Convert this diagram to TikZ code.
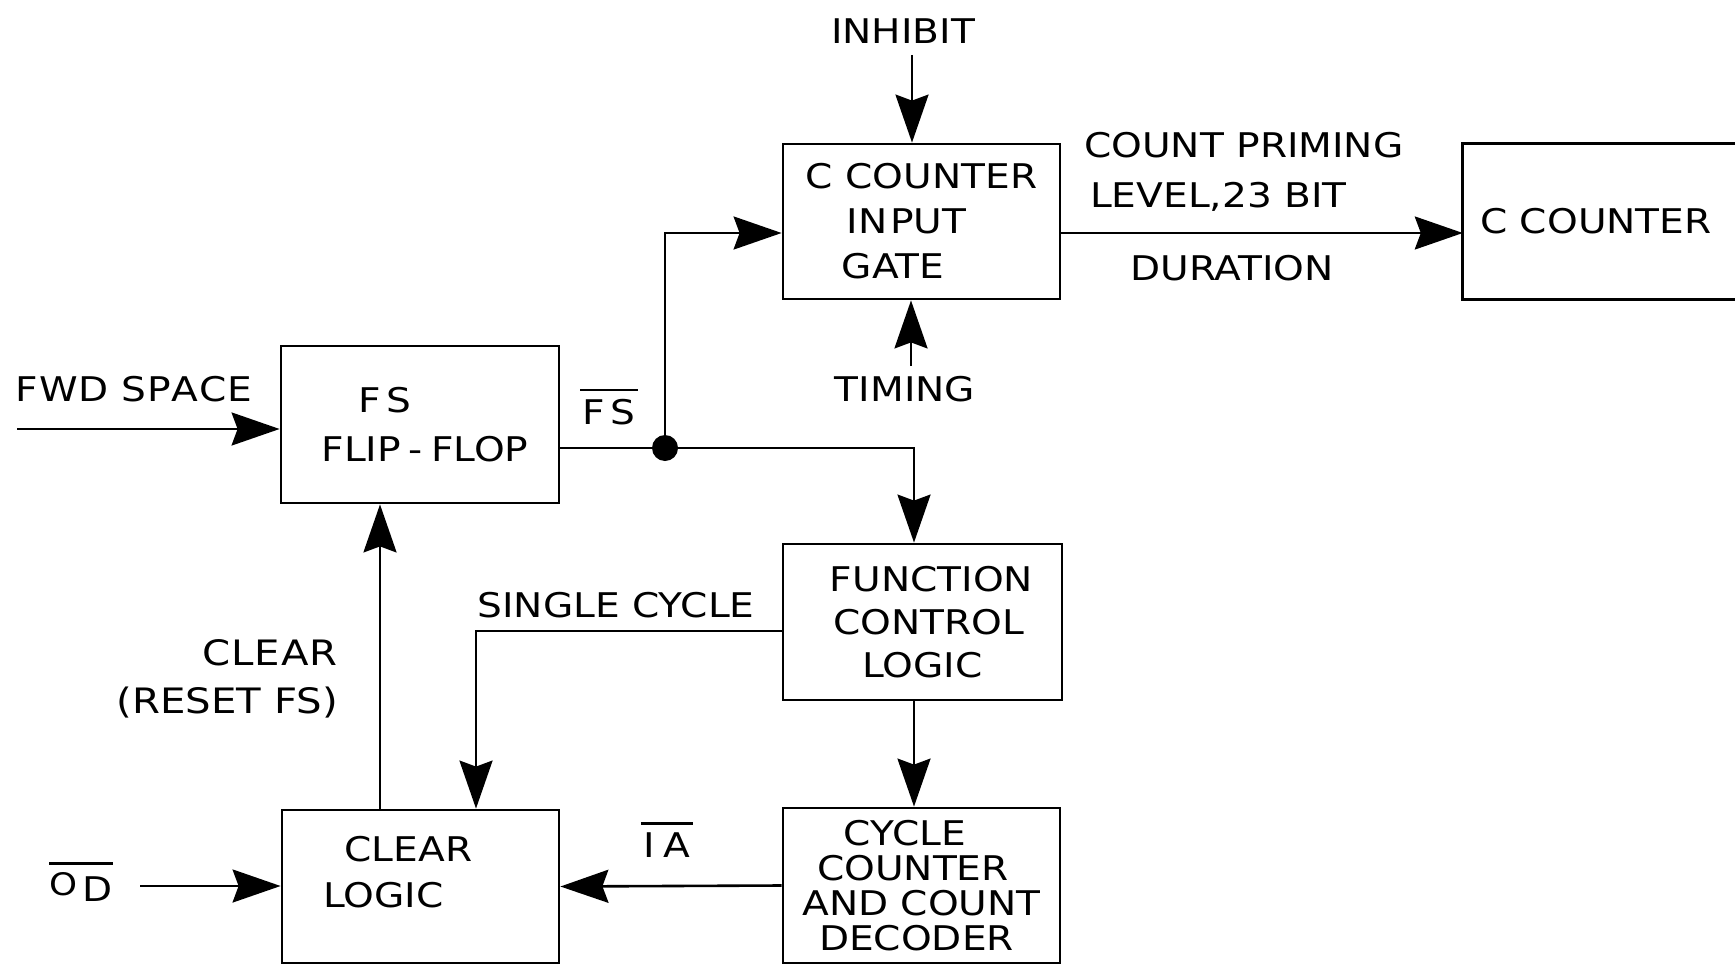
\documentclass[tikz,border=0pt]{standalone}
\usepackage{fontspec}
\setmainfont{DejaVu Sans}[FakeStretch=1.15]
\usetikzlibrary{arrows.meta}
% text with a bar over it (inverted signals)
\newcommand\barred[1]{\vbox{\hrule height 2.6pt\kern 8pt\hbox{#1}}}
% invisible horizontal padding that survives line ends
\newcommand\pad[1]{\rule{#1}{0pt}}
\begin{document}
\begin{tikzpicture}[x=1pt,y=-1pt,
  every node/.style={font=\fontsize{34}{45}\selectfont, inner sep=0pt},
  box/.style={draw, line width=2.8pt, align=center},
  wire/.style={line width=2.6pt},
  arr/.style={wire, -{Stealth[length=48pt,width=33pt,inset=6pt]}}]
\useasboundingbox[fill=white] (0,0) rectangle (1735,966);

% blocks
\node[box, minimum width=277pt, minimum height=155pt] (gate) at (921.5,221.5)
  {C COUNTER\\IN\kern3pt PUT\pad{30pt}\\GATE\pad{57pt}};
\node[align=center, minimum width=273pt, minimum height=155pt] (ccount) at (1599.5,221.5)
  {C COUNTER\pad{7pt}};
\draw[line width=2.8pt] (ccount.north east) -- (ccount.north west)
  -- (ccount.south west) -- (ccount.south east);
\node[box, minimum width=278pt, minimum height=157pt, font=\fontsize{34}{49}\selectfont] (fsff) at (420,424.5)
  {F\kern6pt S\pad{70pt}\\\pad{10pt}FLIP\kern8pt-\kern8pt FLOP};
\node[box, minimum width=279pt, minimum height=156pt, font=\fontsize{34}{43}\selectfont] (fcl) at (922.5,622)
  {\pad{18pt}FUNCTION\\\pad{12pt}CONTROL\\LOGIC};
\node[box, minimum width=277pt, minimum height=155pt, font=\fontsize{34}{35}\selectfont] (ccd) at (921.5,885.5)
  {CYCLE\pad{33pt}\\COUNTER\pad{17pt}\\AND COUNT\\DECODER\pad{10pt}};
\node[box, minimum width=277pt, minimum height=153pt, font=\fontsize{34}{46}\selectfont] (clr) at (420.5,886.5)
  {CLEAR\pad{24pt}\\LOGIC\pad{74pt}\rule[-30pt]{0pt}{30pt}};

% signal names
\node (inh) at (903,31) {INHIBIT};
\node (tim) at (905,389) {TIMING};
\node[align=left, anchor=west, font=\fontsize{34}{50}\selectfont] (cpl) at (1084,172)
  {COUNT PRIMING\\\pad{6pt}LEVEL,23 BIT};
\node (dur) at (1232,268) {DURATION};
\node (fwd) at (134,389) {F\kern1pt W\kern1pt D S\kern1pt P\kern1pt A\kern1pt C\kern1pt E};
\node (fsbar) at (609,407) {\barred{\kern2pt F\kern6pt S\kern2pt}};
\node (sc) at (616,605) {SINGLE CYCLE};
\node[align=right, anchor=east, font=\fontsize{35}{48}\selectfont] (clrlbl) at (338,679)
  {C\kern1pt L\kern1pt E\kern1pt A\kern1pt R\\(RESET FS)};
\node (ia) at (667,840) {\barred{\kern3pt I\kern8pt A\kern3pt}};
\node (od) at (81,882) {\barred{\raisebox{6pt}{\fontsize{31}{31}\selectfont O}\kern5pt D}};

% junction
\node[circle, fill, minimum size=26pt] (jn) at (665,448) {};

% free ends of the input lines
\coordinate (inhS) at (912,55);
\coordinate (timS) at (911,366);
\coordinate (fwdS) at (17,429);
\coordinate (odS) at (140,886);

% connectors
\draw[arr] (inhS) -- (inhS |- gate.north);
\draw[arr] (timS) -- (timS |- gate.south);
\draw[arr] ([yshift=-11.5pt]gate.east) -- ([yshift=-11.5pt]gate.east -| ccount.west);
\draw[arr] (fwdS) -- (fwdS -| fsff.west);
\draw[wire] (fsff.east |- jn) -- (jn);
\draw[arr] (jn) |- ([yshift=-11.5pt]gate.west);
\draw[arr] (jn) -| ([xshift=-8.5pt]fcl.north);
\draw[arr] ([xshift=-8.5pt]fcl.south) -- ([xshift=-7.5pt]ccd.north);
\draw[arr] ([yshift=-9pt]fcl.west) -| ([xshift=55.5pt]clr.north);
\draw[arr] ([xshift=-40.5pt]clr.north) -- ([xshift=-40.5pt]clr.north |- fsff.south);
\draw[arr] (ccd.west) -- (clr.east);
\draw[arr] (odS) -- (odS -| clr.west);
\end{tikzpicture}
\end{document}
